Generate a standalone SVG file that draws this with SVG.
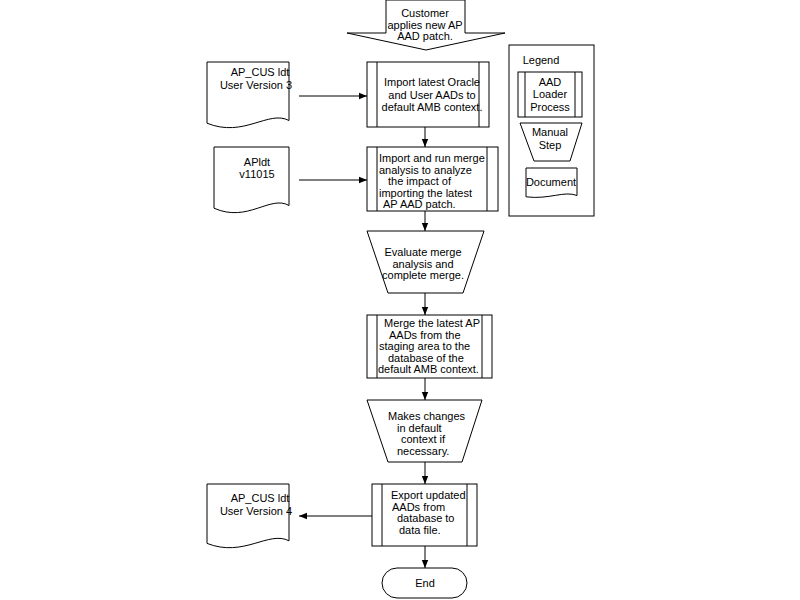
<svg xmlns="http://www.w3.org/2000/svg" width="800" height="600" viewBox="0 0 800 600">
<style>
.s{fill:#fff;stroke:#000;stroke-width:1}
.l{fill:none;stroke:#000;stroke-width:1}
text{font-family:"Liberation Sans",Arial,sans-serif;font-size:11px;fill:#000}
.m{text-anchor:middle}
</style>
<defs>
<marker id="ah" viewBox="0 0 8 8" refX="8" refY="4" markerWidth="8" markerHeight="8" markerUnits="userSpaceOnUse" orient="auto">
<path d="M0,0.8 L8,4 L0,7.2 Z" fill="#000"/>
</marker>
</defs>
<rect width="800" height="600" fill="#fff"/>

<g id="start">
<polygon class="s" points="386,0 465,0 465,33 505,33 426,50 347,33 386,33"/>
<text class="m" x="425" y="17">Customer</text>
<text class="m" x="425" y="29">applies new AP</text>
<text class="m" x="425" y="40">AAD patch.</text>
</g>

<g id="box1">
<rect class="s" x="367" y="62" width="122" height="65"/>
<line class="l" x1="377" y1="62" x2="377" y2="127"/>
<line class="l" x1="479" y1="62" x2="479" y2="127"/>
<text class="m" x="432" y="86">Import latest Oracle</text>
<text class="m" x="432" y="98.5">and User AADs to</text>
<text class="m" x="432" y="111">default AMB context.</text>
</g>

<g id="box2">
<rect class="s" x="367" y="147" width="131" height="64"/>
<line class="l" x1="377" y1="147" x2="377" y2="211"/>
<line class="l" x1="487" y1="147" x2="487" y2="211"/>
<text x="379" y="162">Import and run merge</text>
<text x="379" y="173.5">analysis to analyze</text>
<text x="388" y="185">the impact of</text>
<text x="379" y="196.5">importing the latest</text>
<text x="383" y="208">AP AAD patch.</text>
</g>

<g id="doc1">
<path class="s" d="M207,62 H289 V120.5 C268.5,109.6 243.9,138.2 207,123.2 Z"/>
<text class="m" x="260" y="76">AP_CUS ldt</text>
<text class="m" x="256" y="89">User Version 3</text>
</g>

<g id="doc2">
<path class="s" d="M214,147 H289 V205.5 C270.3,194.6 247.8,223.2 214,208.2 Z"/>
<text class="m" x="257" y="166">APldt</text>
<text class="m" x="257" y="178">v11015</text>
</g>

<g id="manual1">
<polygon class="s" points="367,231 484,231 463,293 388,293"/>
<text class="m" x="423" y="256">Evaluate merge</text>
<text class="m" x="423" y="267.5">analysis and</text>
<text class="m" x="423" y="279">complete merge.</text>
</g>

<g id="box3">
<rect class="s" x="367" y="315" width="125" height="63"/>
<line class="l" x1="377" y1="315" x2="377" y2="378"/>
<line class="l" x1="482" y1="315" x2="482" y2="378"/>
<text x="384" y="327">Merge the latest AP</text>
<text x="389" y="338.5">AADs from the</text>
<text x="379" y="350">staging area to the</text>
<text x="388" y="361.5">database of the</text>
<text x="378" y="373">default AMB context.</text>
</g>

<g id="manual2">
<polygon class="s" points="367,400 482,400 462,462 388,462"/>
<text x="388" y="420">Makes changes</text>
<text x="397" y="431.5">in default</text>
<text x="401" y="443">context if</text>
<text x="397" y="454.5">necessary.</text>
</g>

<g id="box4">
<rect class="s" x="372" y="484" width="105" height="62"/>
<line class="l" x1="382" y1="484" x2="382" y2="546"/>
<line class="l" x1="467" y1="484" x2="467" y2="546"/>
<text x="391" y="499">Export updated</text>
<text x="392" y="510.5">AADs from</text>
<text x="397" y="522">database to</text>
<text x="399" y="533.5">data file.</text>
</g>

<g id="doc3">
<path class="s" d="M207,484 H289 V540.8 C268.5,530.2 243.9,557.9 207,543.4 Z"/>
<text class="m" x="260" y="502">AP_CUS ldt</text>
<text class="m" x="256" y="515">User Version 4</text>
</g>

<g id="end">
<rect class="s" x="382" y="568" width="85" height="30" rx="15" ry="15"/>
<text class="m" x="425" y="587">End</text>
</g>

<g id="legend">
<rect class="s" x="509" y="45" width="85" height="171"/>
<text class="m" x="541" y="64">Legend</text>
<rect class="s" x="518" y="72" width="64" height="45"/>
<line class="l" x1="525" y1="72" x2="525" y2="117"/>
<line class="l" x1="575" y1="72" x2="575" y2="117"/>
<text class="m" x="550" y="86">AAD</text>
<text class="m" x="550" y="98">Loader</text>
<text class="m" x="550" y="111">Process</text>
<polygon class="s" points="520,123 582,123 570,161 534,161"/>
<text class="m" x="550" y="136">Manual</text>
<text class="m" x="550" y="149">Step</text>
<path class="s" d="M526,168 H577 V195.5 C564.3,190.4 549,199.8 526,196.8 Z"/>
<text class="m" x="551" y="186">Document</text>
</g>

<g id="connectors">
<line class="l" x1="299" y1="96" x2="367" y2="96" marker-end="url(#ah)"/>
<line class="l" x1="425" y1="127" x2="425" y2="147" marker-end="url(#ah)"/>
<line class="l" x1="299" y1="180" x2="367" y2="180" marker-end="url(#ah)"/>
<line class="l" x1="425" y1="211" x2="425" y2="231" marker-end="url(#ah)"/>
<line class="l" x1="425" y1="293" x2="425" y2="315" marker-end="url(#ah)"/>
<line class="l" x1="425" y1="378" x2="425" y2="400" marker-end="url(#ah)"/>
<line class="l" x1="425" y1="462" x2="425" y2="484" marker-end="url(#ah)"/>
<line class="l" x1="372" y1="516" x2="299" y2="516" marker-end="url(#ah)"/>
<line class="l" x1="425" y1="546" x2="425" y2="568" marker-end="url(#ah)"/>
</g>
</svg>
